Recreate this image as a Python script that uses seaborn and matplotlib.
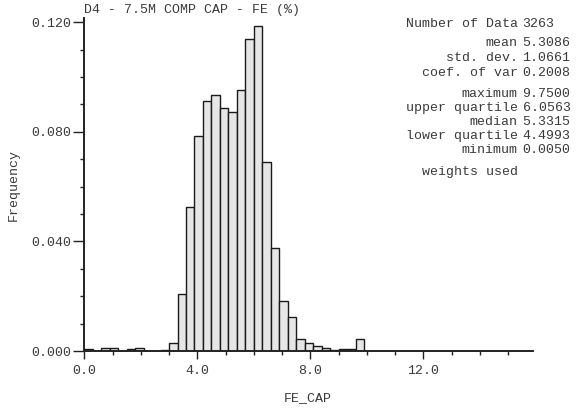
"""Histogramme GSLIB-like de FE_CAP (D4 - 7.5M COMP CAP)."""

import numpy as np
import pandas as pd
import matplotlib
matplotlib.use("Agg")
import matplotlib.pyplot as plt
import seaborn as sns

# Classes de 0.3 en partant de 0.0 (limite basse de chaque classe)
CLASS_START = 0.0
CLASS_WIDTH = 0.3

# Fréquences, classe par classe (0.0-0.3 ... 9.6-9.9)
frequencies = [
    0.0009, 0.0000, 0.0012, 0.0012, 0.0000, 0.0006, 0.0011, 0.0000, 0.0000, 0.0003,
    0.0028, 0.0208, 0.0525, 0.0784, 0.0913, 0.0934, 0.0887, 0.0872, 0.0953, 0.1140,
    0.1184, 0.0688, 0.0375, 0.0184, 0.0125, 0.0044, 0.0030, 0.0018, 0.0012, 0.0003,
    0.0006, 0.0006, 0.0044,
]

stat_labels_1 = ["mean", "std. dev.", "coef. of var"]
stat_values_1 = ["5.3086", "1.0661", "0.2008"]
stat_labels_2 = ["maximum", "upper quartile", "median", "lower quartile", "minimum"]
stat_values_2 = ["9.7500", "6.0563", "5.3315", "4.4993", "0.0050"]
n_data = "3263"

x_ticks = [0.0, 4.0, 8.0, 12.0]
y_ticks = [0.000, 0.040, 0.080, 0.120]

# ---------------------------------------------------------------------
n_cls = len(frequencies)
lows = CLASS_START + CLASS_WIDTH * np.arange(n_cls)
df = pd.DataFrame({"centre": lows + CLASS_WIDTH / 2, "freq": frequencies})

sns.set_style("ticks")
plt.rcParams["font.family"] = ["Liberation Mono", "DejaVu Sans Mono"]
FS = 9.5
INK = "#222222"
TXT = "#3a3a3a"
PX = 0.72  # 1 pixel en points à 100 dpi

fig = plt.figure(figsize=(5.82, 4.11), dpi=100)
ax = fig.add_axes([84.3 / 582, 60 / 411, (533 - 84.3) / 582, 333 / 411])

sns.histplot(
    data=df, x="centre", weights="freq", stat="count",
    binwidth=CLASS_WIDTH, binrange=(CLASS_START, CLASS_START + CLASS_WIDTH * n_cls),
    color="#e6e6e6", edgecolor="#1a1a1a", linewidth=1.0, alpha=1.0, ax=ax,
)

ax.set_xlim(0, 15.88)
ax.set_ylim(0, 0.1215)
ax.set_xticks(x_ticks)
ax.set_xticklabels([f"{t:.1f}" for t in x_ticks])
ax.set_xticks(np.arange(0, 16, 1.0), minor=True)
ax.set_yticks(y_ticks)
ax.set_yticklabels([f"{t:.3f}" for t in y_ticks])
ax.set_yticks(np.arange(0, 0.121, 0.01), minor=True)

ax.tick_params(axis="both", which="both", labelsize=FS, colors=INK, labelcolor=TXT, width=1.0)
ax.tick_params(axis="y", which="major", length=11 * PX, pad=2 * PX)
ax.tick_params(axis="y", which="minor", length=4 * PX)
ax.tick_params(axis="x", which="major", length=8 * PX, pad=6 * PX)
ax.tick_params(axis="x", which="minor", length=3.5 * PX)

sns.despine(ax=ax)
for side in ("left", "bottom"):
    ax.spines[side].set_linewidth(1.4)
    ax.spines[side].set_color(INK)

# Etiquettes d'axes placées à la main (comme dans GSLIB)
ax.set_xlabel("")
ax.set_ylabel("")
fig.text(308 / 582, 1 - 398 / 411, "FE_CAP", fontsize=FS, color=TXT, ha="center", va="center")
fig.text(14 / 582, 1 - 185 / 411, "Frequency", fontsize=FS, color=TXT,
         ha="center", va="center", rotation=90)

# Titre collé en haut à gauche du cadre
fig.text(84.5 / 582, 1 - 10 / 411, "D4 - 7.5M COMP CAP - FE (%)", fontsize=FS,
         color=TXT, ha="left", va="center")

# Bloc de statistiques à droite
xl, xv = 517.5 / 582, 522.5 / 582


def put(y_px, lab, val=None):
    fig.text(xl, 1 - y_px / 411, lab, fontsize=FS, color=TXT, ha="right", va="center")
    if val is not None:
        fig.text(xv, 1 - y_px / 411, val, fontsize=FS, color=TXT, ha="left", va="center")


put(24.3, "Number of Data", n_data)
for i, (lab, val) in enumerate(zip(stat_labels_1, stat_values_1)):
    put(43.3 + 15 * i, lab, val)
for i, (lab, val) in enumerate(zip(stat_labels_2, stat_values_2)):
    put(94.3 + 14 * i, lab, val)
put(172.3, "weights used")

fig.savefig("out.png", dpi=100)
plt.close(fig)
